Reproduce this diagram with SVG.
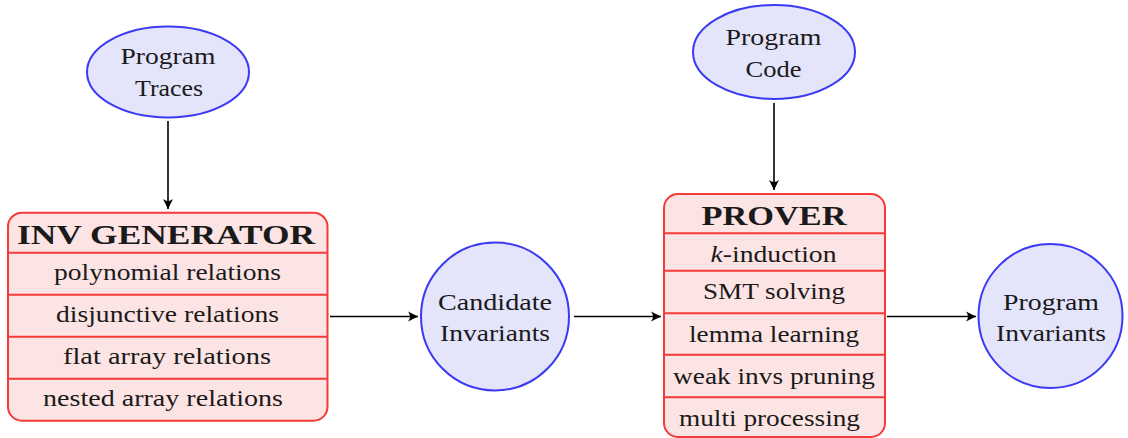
<svg xmlns="http://www.w3.org/2000/svg" width="1128" height="438" viewBox="0 0 1128 438">
<style>
.ell{fill:#e4e4fa;stroke:#3a3af5;stroke-width:2}
.box{fill:#fde4e4;stroke:#f53a3a;stroke-width:2}
.div{stroke:#f53a3a;stroke-width:2}
text{font-family:"Liberation Serif","DejaVu Serif",serif;font-size:23px;fill:#1a1a1a;text-anchor:middle}
.hd{font-weight:bold;font-size:27px}
.con{stroke:#000;stroke-width:1.6;fill:none;marker-end:url(#arr)}
</style>
<defs>
<marker id="arr" markerUnits="userSpaceOnUse" markerWidth="14" markerHeight="12" viewBox="-11 -6 12 12" refX="0" refY="0" orient="auto">
<path d="M0,0 L-10,-5 Q-6,0 -10,5 Z" fill="#000"/>
</marker>
</defs>
<g id="connectors">
<line class="con" x1="168" y1="121" x2="168" y2="209"/>
<line class="con" x1="774" y1="103" x2="774" y2="190"/>
<line class="con" x1="330" y1="316.5" x2="418" y2="316.5"/>
<line class="con" x1="574" y1="316.5" x2="661" y2="316.5"/>
<line class="con" x1="887" y1="316.5" x2="976" y2="316.5"/>
</g>
<g id="program-traces">
<ellipse class="ell" cx="168" cy="72" rx="81" ry="45.5"/>
<text x="168" y="63.5" textLength="95" lengthAdjust="spacingAndGlyphs">Program</text>
<text x="169" y="96" textLength="68" lengthAdjust="spacingAndGlyphs">Traces</text>
</g>
<g id="program-code">
<ellipse class="ell" cx="774" cy="52" rx="81" ry="47"/>
<text x="773.5" y="44.5" textLength="96" lengthAdjust="spacingAndGlyphs">Program</text>
<text x="773.5" y="77" textLength="56" lengthAdjust="spacingAndGlyphs">Code</text>
</g>
<g id="inv-generator">
<rect class="box" x="8" y="212.7" width="319.5" height="208" rx="14"/>
<line class="div" x1="8" y1="252.7" x2="327.5" y2="252.7"/>
<line class="div" x1="8" y1="294.7" x2="327.5" y2="294.7"/>
<line class="div" x1="8" y1="336.7" x2="327.5" y2="336.7"/>
<line class="div" x1="8" y1="378.7" x2="327.5" y2="378.7"/>
<text class="hd" x="166" y="243.5" textLength="298" lengthAdjust="spacingAndGlyphs">INV GENERATOR</text>
<text x="167.5" y="280" textLength="227" lengthAdjust="spacingAndGlyphs">polynomial relations</text>
<text x="167.5" y="322" textLength="223" lengthAdjust="spacingAndGlyphs">disjunctive relations</text>
<text x="167" y="363.5" textLength="208" lengthAdjust="spacingAndGlyphs">flat array relations</text>
<text x="163" y="405.5" textLength="240" lengthAdjust="spacingAndGlyphs">nested array relations</text>
</g>
<g id="candidate-invariants">
<circle class="ell" cx="495" cy="316.5" r="74"/>
<text x="495" y="310" textLength="114" lengthAdjust="spacingAndGlyphs">Candidate</text>
<text x="495" y="341" textLength="110" lengthAdjust="spacingAndGlyphs">Invariants</text>
</g>
<g id="prover">
<rect class="box" x="664" y="194" width="221" height="243" rx="14"/>
<line class="div" x1="664" y1="233.3" x2="885" y2="233.3"/>
<line class="div" x1="664" y1="270.7" x2="885" y2="270.7"/>
<line class="div" x1="664" y1="313.3" x2="885" y2="313.3"/>
<line class="div" x1="664" y1="354.7" x2="885" y2="354.7"/>
<line class="div" x1="664" y1="397.3" x2="885" y2="397.3"/>
<text class="hd" x="774" y="225" textLength="145" lengthAdjust="spacingAndGlyphs">PROVER</text>
<text x="773.5" y="262" textLength="126" lengthAdjust="spacingAndGlyphs"><tspan font-style="italic">k</tspan>-induction</text>
<text x="774" y="299" textLength="142" lengthAdjust="spacingAndGlyphs">SMT solving</text>
<text x="774" y="342" textLength="170" lengthAdjust="spacingAndGlyphs">lemma learning</text>
<text x="774" y="383.5" textLength="202" lengthAdjust="spacingAndGlyphs">weak invs pruning</text>
<text x="769.5" y="425.5" textLength="181" lengthAdjust="spacingAndGlyphs">multi processing</text>
</g>
<g id="program-invariants">
<circle class="ell" cx="1050.5" cy="316" r="72"/>
<text x="1051" y="310" textLength="96" lengthAdjust="spacingAndGlyphs">Program</text>
<text x="1051" y="341" textLength="110" lengthAdjust="spacingAndGlyphs">Invariants</text>
</g>
</svg>
